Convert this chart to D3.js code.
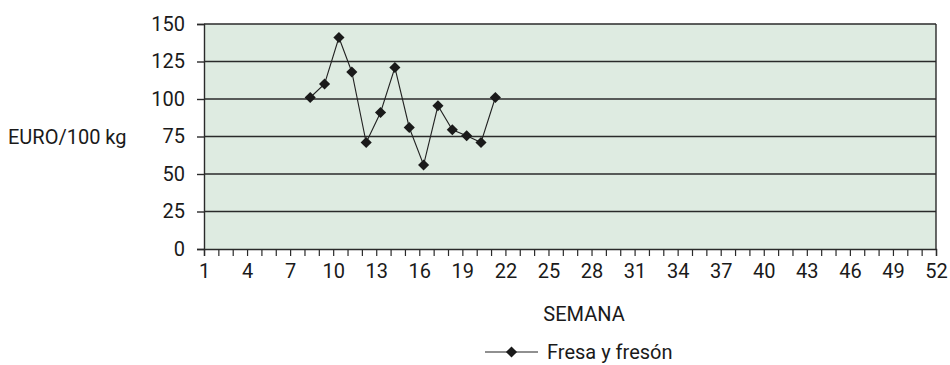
<!DOCTYPE html>
<html>
<head>
<meta charset="utf-8">
<script src="https://cdn.jsdelivr.net/npm/d3@7"></script>
<style>
  body { margin: 0; background: #fff; }
  text { font-family: Roboto, "Liberation Sans", sans-serif; fill: #1a1a1a; }
</style>
</head>
<body>
<div id="chart"></div>
<script>
// weeks (points sit a little right of the week tick)
var weeks = [8.4, 9.4, 10.4, 11.3, 12.3, 13.3, 14.3, 15.3, 16.3, 17.3, 18.3, 19.3, 20.3, 21.3];
var prices = [101, 110, 141, 118, 71, 91, 121, 81, 56, 95.5, 79.5, 75.5, 71, 101];
var yTicks = [0, 25, 50, 75, 100, 125, 150];
var xLabels = [1, 4, 7, 10, 13, 16, 19, 22, 25, 28, 31, 34, 37, 40, 43, 46, 49, 52];
var seriesName = "Fresa y fresón";

var W = 950, H = 365;
var margin = { top: 24, right: 14, bottom: 116, left: 204 };
var width = W - margin.left - margin.right,
  height = H - margin.top - margin.bottom;
var fs = "20px";

var svg = d3.select("#chart").append("svg")
  .attr("width", W).attr("height", H);
var g = svg.append("g")
  .attr("transform", "translate(" + margin.left + "," + margin.top + ")");

var x = d3.scaleLinear().domain([1, 52]).range([0, width]);
var y = d3.scaleLinear().domain([0, 150]).range([height, 0]);

g.append("rect")
  .attr("width", width).attr("height", height)
  .attr("fill", "#deebe1");

// gridlines
g.selectAll(".grid").data(yTicks.slice(1)).enter().append("line")
  .attr("x1", 0).attr("x2", width)
  .attr("y1", d => y(d)).attr("y2", d => y(d))
  .attr("stroke", "#2a2a2a").attr("stroke-width", 1.4);

// right border
g.append("line").attr("x1", width).attr("x2", width)
  .attr("y1", 0).attr("y2", height)
  .attr("stroke", "#2a2a2a").attr("stroke-width", 1.4);

// y axis
var yAxis = g.append("g")
  .call(d3.axisLeft(y).tickValues(yTicks).tickSize(7).tickPadding(12));
yAxis.select(".domain").attr("stroke", "#2a2a2a").attr("stroke-width", 1.4);
yAxis.selectAll(".tick line").attr("stroke", "#2a2a2a").attr("stroke-width", 1.4);
yAxis.selectAll("text").style("font-size", fs).attr("fill", "#1a1a1a")
  .style("font-family", "Roboto, sans-serif");

// x axis: tick per week, label every 3rd
var xAxis = g.append("g").attr("transform", "translate(0," + height + ")")
  .call(d3.axisBottom(x).tickValues(d3.range(1, 53)).tickSize(7).tickPadding(8)
    .tickFormat(d => xLabels.indexOf(d) >= 0 ? d : ""));
xAxis.select(".domain").attr("stroke", "#2a2a2a").attr("stroke-width", 1.4);
xAxis.selectAll(".tick line").attr("stroke", "#2a2a2a").attr("stroke-width", 1.2);
xAxis.selectAll("text").style("font-size", fs).attr("fill", "#1a1a1a")
  .style("font-family", "Roboto, sans-serif");

// series
var line = d3.line().x((d, i) => x(weeks[i])).y(d => y(d));
g.append("path").datum(prices)
  .attr("d", line)
  .attr("fill", "none").attr("stroke", "#222").attr("stroke-width", 1.1);

var diamond = d3.symbol().type(d3.symbolSquare).size(62);
g.selectAll(".pt").data(prices).enter().append("path")
  .attr("d", diamond)
  .attr("transform", (d, i) => "translate(" + x(weeks[i]) + "," + y(d) + ") rotate(45)")
  .attr("fill", "#1a1a1a");

// axis titles
svg.append("text")
  .attr("x", 8).attr("y", margin.top + y(75))
  .attr("dy", "0.35em")
  .style("font-size", fs)
  .text("EURO/100 kg");

svg.append("text")
  .attr("x", 584).attr("y", 314)
  .attr("dy", "0.35em")
  .attr("text-anchor", "middle")
  .style("font-size", fs)
  .text("SEMANA");

// legend
var lg = svg.append("g").attr("transform", "translate(485,352)");
lg.append("line").attr("x1", 0).attr("x2", 53)
  .attr("stroke", "#222").attr("stroke-width", 1.1);
lg.append("path").attr("d", diamond)
  .attr("transform", "translate(26.5,0) rotate(45)")
  .attr("fill", "#1a1a1a");
lg.append("text").attr("x", 62).attr("dy", "0.35em")
  .style("font-size", fs)
  .text(seriesName);
</script>
</body>
</html>
